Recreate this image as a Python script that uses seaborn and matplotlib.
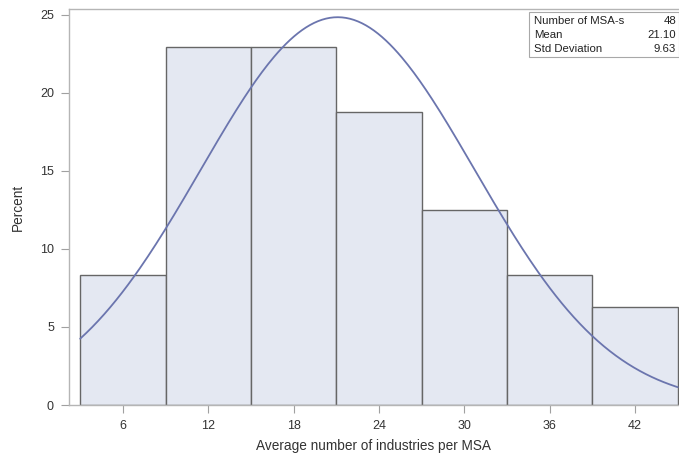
import numpy as np
import pandas as pd
import seaborn as sns
import matplotlib.pyplot as plt
from matplotlib.patches import Rectangle

# histogram bins (midpoints) and percent of MSAs in each
bin_mid = [6, 12, 18, 24, 30, 36, 42]
bin_pct = [8.33, 22.92, 22.92, 18.75, 12.50, 8.33, 6.25]
bin_width = 6

# summary stats shown in the inset
n_msa = 48
mean_val = 21.10
std_val = 9.63

sns.set_theme(style="white")
plt.rcParams['font.family'] = ['Liberation Sans', 'DejaVu Sans']

df = pd.DataFrame({'mid': bin_mid, 'pct': bin_pct})
edges = [m - bin_width / 2 for m in bin_mid] + [bin_mid[-1] + bin_width / 2]

# fitted normal curve, scaled to percent per bin
xs = np.linspace(edges[0], edges[-1], 300)
ys = 100 * bin_width * np.exp(-0.5 * ((xs - mean_val) / std_val) ** 2) / (std_val * np.sqrt(2 * np.pi))
curve = pd.DataFrame({'x': xs, 'y': ys})

fig = plt.figure(figsize=(6.79, 4.55), dpi=100)
ax = fig.add_axes([68.5 / 679, 50 / 455, 1 - 68.5 / 679, (405 - 9.5) / 455])

sns.histplot(data=df, x='mid', weights='pct', bins=edges, ax=ax,
             color='#E4E8F2', edgecolor='#666666', linewidth=1.0, alpha=1)
sns.lineplot(data=curve, x='x', y='y', ax=ax, color='#6B75AE', linewidth=1.3)

ax.set_xlim(2.18, 45.09)
ax.set_ylim(0, 25.35)
ax.set_xticks(bin_mid)
ax.set_yticks([0, 5, 10, 15, 20, 25])
ax.set_xlabel('Average number of industries per MSA', fontsize=9.8, color='#333333', labelpad=5.5)
ax.set_ylabel('Percent', fontsize=9.8, color='#333333', labelpad=11)
ax.tick_params(axis='both', length=5.5, width=0.8, color='#A0A0A0', labelsize=9,
               labelcolor='#333333', pad=5, bottom=True, left=True)

for s in ['left', 'bottom', 'top']:
    ax.spines[s].set_color('#B5B5B5')
    ax.spines[s].set_linewidth(1.0)
ax.spines['right'].set_visible(False)

# inset stats table
box_l, box_t, box_r, box_b = 529, 12, 678.5, 57
fig.patches.append(Rectangle((box_l / 679, 1 - box_b / 455), (box_r - box_l) / 679,
                             (box_b - box_t) / 455, transform=fig.transFigure,
                             facecolor='white', edgecolor='#A8A8A8', linewidth=0.8, zorder=5))
rows = [('Number of MSA-s', f'{n_msa}'), ('Mean', f'{mean_val:.2f}'), ('Std Deviation', f'{std_val:.2f}')]
for i, (lab, val) in enumerate(rows):
    yy = 1 - (20.5 + i * 14.5) / 455
    fig.text(534 / 679, yy, lab, fontsize=8.2, color='#222222', va='center', ha='left', zorder=6)
    fig.text(676 / 679, yy, val, fontsize=8.2, color='#222222', va='center', ha='right', zorder=6)

fig.savefig('out.png', dpi=100)
